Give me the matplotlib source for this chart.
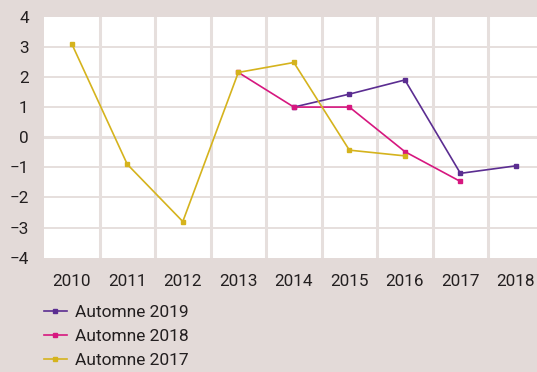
import numpy as np
import matplotlib
matplotlib.use("Agg")
import matplotlib.pyplot as plt

years = ["2010", "2011", "2012", "2013", "2014", "2015", "2016", "2017", "2018"]
nan = np.nan
automne_2019 = [nan, nan, nan, nan, 1.0, 1.43, 1.9, -1.2, -0.95]
automne_2018 = [nan, nan, nan, 2.15, 1.0, 1.0, -0.48, -1.47, nan]
automne_2017 = [3.1, -0.9, -2.8, 2.15, 2.48, -0.43, -0.62, nan, nan]

bg = "#e3dad8"
grid = "#e6dfdd"
txt = "#231f20"

plt.rcParams["font.family"] = ["Roboto", "DejaVu Sans"]

W, H = 537, 372
fig = plt.figure(figsize=(W / 100, H / 100), dpi=100, facecolor=bg)
ax = fig.add_axes([44 / W, (H - 257.7) / H, (543.7 - 44) / W, 241 / H])
ax.set_facecolor("white")

x = np.arange(len(years))

# horizontal grid, zero line heavier
for v in range(-3, 4):
    ax.axhline(v, color=grid, lw=2.2 if v == 0 else 1.4, zorder=1)
# vertical separators between categories
for b in x[:-1] + 0.5:
    ax.axvline(b, color=grid, lw=2.2, zorder=1)

series = [
    ("Automne 2019", automne_2019, "#5b2d91"),
    ("Automne 2018", automne_2018, "#d6177f"),
    ("Automne 2017", automne_2017, "#d5b31d"),
]
for label, vals, c in series:
    ax.plot(x, vals, color=c, lw=1.2, marker="s", markersize=3.2, label=label, zorder=3)

ax.set_xlim(-0.5, len(years) - 0.5)
ax.set_ylim(-4, 4)
ax.set_xticks(x)
ax.set_xticklabels(years)
ax.set_yticks(range(-4, 5))
ax.tick_params(length=0, labelsize=12.3, colors=txt)
ax.tick_params(axis="y", pad=11)
ax.tick_params(axis="x", pad=11.5)
for s in ax.spines.values():
    s.set_visible(False)

handles, labels = ax.get_legend_handles_labels()
fig.legend(handles, labels, loc="upper left", bbox_to_anchor=(44 / W, 1 - 305 / H),
           frameon=False, fontsize=12.5, handlelength=1.32, handletextpad=0.45,
           labelspacing=0.5, borderaxespad=0, borderpad=0, labelcolor=txt)

fig.savefig("out.png", dpi=100, facecolor=bg)
